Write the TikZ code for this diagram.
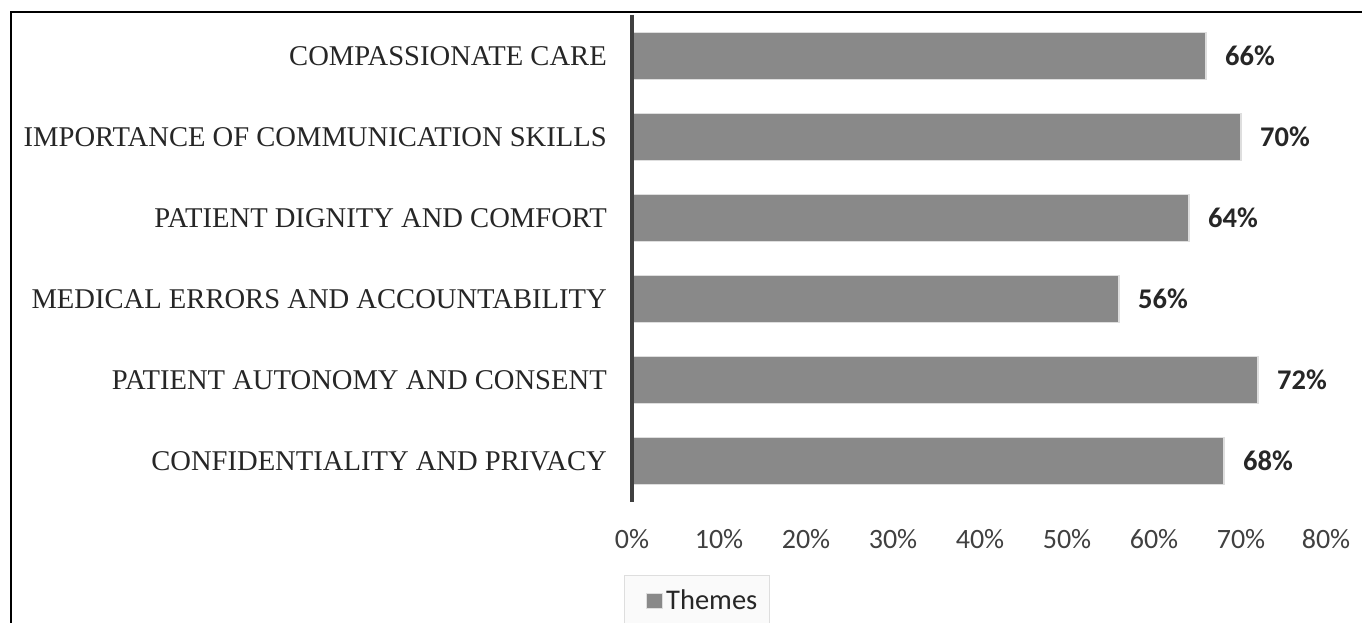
\documentclass[tikz,border=0pt]{standalone}
\usepackage{fontspec}
\setmainfont{Liberation Serif}
\newfontfamily\carlito{Carlito}
\usetikzlibrary{positioning}
\definecolor{barfill}{HTML}{898989}
\definecolor{baredge}{HTML}{DEDEDE}
\definecolor{axisgray}{HTML}{404040}
\definecolor{textgray}{HTML}{262626}
\definecolor{legendbg}{HTML}{FAFAFA}
\tikzset{
  bar/.style={fill=barfill, draw=baredge, line width=1.5pt, inner sep=0pt, outer sep=0pt,
    minimum height=47pt, anchor=west},
  catlabel/.style={inner sep=0pt, text=textgray, font=\fontsize{28.6}{31}\selectfont},
  vallabel/.style={inner sep=0pt, text=textgray, font=\carlito\bfseries\fontsize{28.5}{31}\selectfont},
  ticklabel/.style={inner sep=0pt, text=axisgray, font=\carlito\fontsize{28}{31}\selectfont},
}

\begin{document}
\begin{tikzpicture}[x=1pt, y=-1pt]
\useasboundingbox (0,0) rectangle (1362,623);
% frame
\draw[line width=1.5pt] (11,623) -- (11,12) -- (1362,12);
%
% bars listed top to bottom, 87 units per 10%
\node[bar, minimum width=574pt] (care) at (632,56) {};
\node[bar, minimum width=609pt] (comm) at (632,137) {};
\node[bar, minimum width=557pt] (dign) at (632,218) {};
\node[bar, minimum width=487pt] (err)  at (632,299) {};
\node[bar, minimum width=626pt] (auto) at (632,380) {};
\node[bar, minimum width=592pt] (conf) at (632,461) {};
% category names
\node[catlabel, left=25pt of care.west] (ncare) {COMPASSIONATE CARE};
\node[catlabel, left=25pt of comm.west] (ncomm) {IMPORTANCE OF COMMUNICATION SKILLS};
\node[catlabel, left=25pt of dign.west] (ndign) {PATIENT DIGNITY AND COMFORT};
\node[catlabel, left=25pt of err.west]  (nerr)  {MEDICAL ERRORS AND ACCOUNTABILITY};
\node[catlabel, left=25pt of auto.west] (nauto) {PATIENT AUTONOMY AND CONSENT};
\node[catlabel, left=25pt of conf.west] (nconf) {CONFIDENTIALITY AND PRIVACY};
% values
\node[vallabel, right=19pt of care.east] (vcare) {66\%};
\node[vallabel, right=19pt of comm.east] (vcomm) {70\%};
\node[vallabel, right=19pt of dign.east] (vdign) {64\%};
\node[vallabel, right=19pt of err.east]  (verr)  {56\%};
\node[vallabel, right=19pt of auto.east] (vauto) {72\%};
\node[vallabel, right=19pt of conf.east] (vconf) {68\%};
%
\coordinate (axtop) at (632,15);
\coordinate (axbot) at (632,502);
\draw[axisgray, line width=3.5pt] (axtop) -- (axbot);
\path (632,539) node[ticklabel] (t0) {0\%}
      (719,539) node[ticklabel] (t1) {10\%}
      (806,539) node[ticklabel] (t2) {20\%}
      (893,539) node[ticklabel] (t3) {30\%}
      (980,539) node[ticklabel] (t4) {40\%}
      (1067,539) node[ticklabel] (t5) {50\%}
      (1154,539) node[ticklabel] (t6) {60\%}
      (1241,539) node[ticklabel] (t7) {70\%}
      (1326,539) node[ticklabel] (t8) {80\%};
% legend
\draw[fill=legendbg, draw=baredge, line width=1pt] (624,575) rectangle (769,630);
\draw[fill=barfill, draw=baredge, line width=0.8pt] (646,593) rectangle (662,608);
\node[ticklabel, anchor=west, text=textgray, font=\carlito\fontsize{28.5}{31}\selectfont] (leg) at (666,600) {Themes};
\end{tikzpicture}
\end{document}
